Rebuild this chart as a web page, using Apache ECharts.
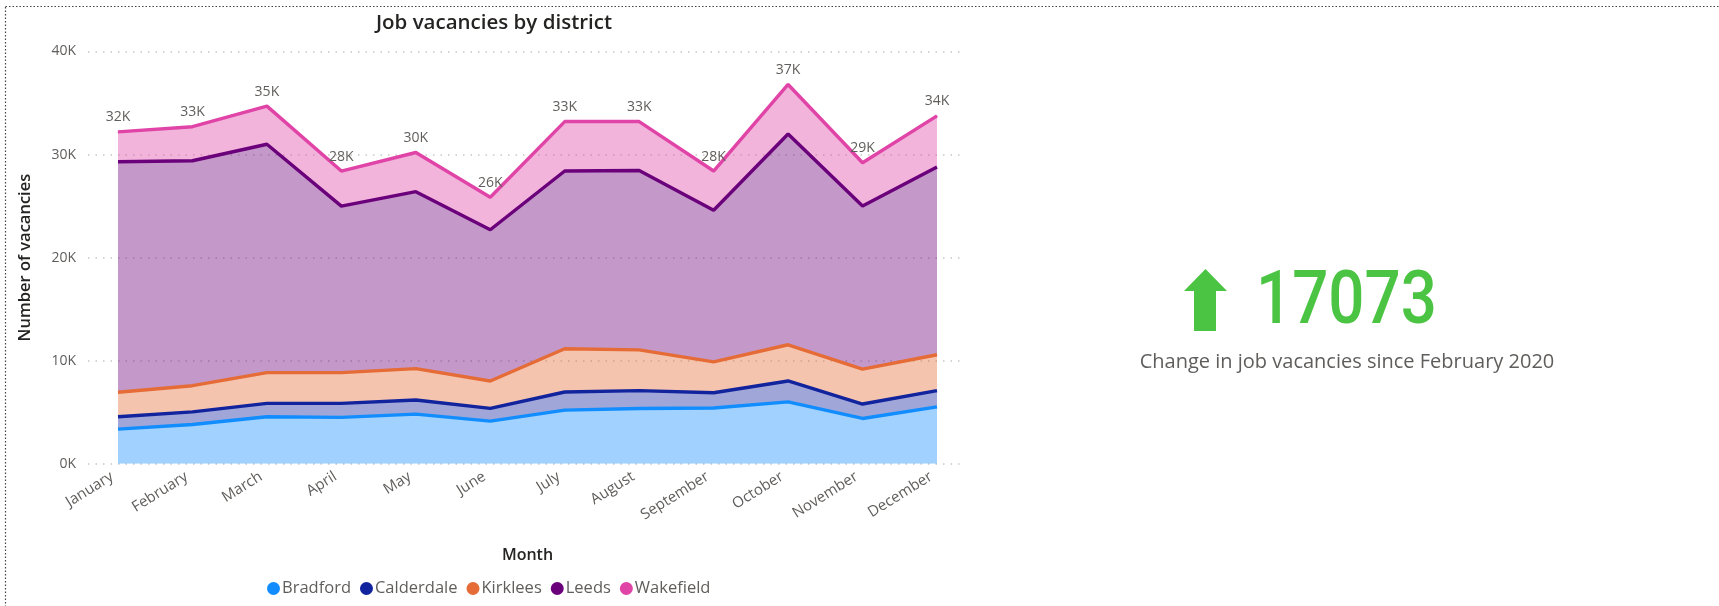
<!DOCTYPE html>
<html>
<head>
<meta charset="utf-8">
<script src="https://cdn.jsdelivr.net/npm/echarts@6/dist/echarts.min.js"></script>
<style>
html,body{margin:0;padding:0;background:#fff;}
#chart{width:1719px;height:606px;}
</style>
</head>
<body>
<div id="chart"></div>
<script>
const months = ['January','February','March','April','May','June','July','August','September','October','November','December'];
const bradford   = [3350, 3800, 4550, 4500, 4810, 4130, 5200, 5350, 5400, 6000, 4390, 5520];
const calderdale = [1200, 1230, 1300, 1350, 1370, 1240, 1760, 1740, 1490, 2030, 1400, 1570];
const kirklees   = [2380, 2540, 2990, 2990, 3050, 2660, 4190, 3960, 2990, 3510, 3380, 3480];
const leeds      = [22370, 21830, 22160, 16160, 17170, 14670, 17250, 17400, 14720, 20460, 15830, 18230];
const wakefield  = [2900, 3300, 3700, 3400, 3800, 3150, 4800, 4750, 3800, 4800, 4200, 4950];
const seriesNames = ['Bradford','Calderdale','Kirklees','Leeds','Wakefield'];
const yTicks = [0, 10000, 20000, 30000, 40000];
const kpiValue = 17073;
const kpiCaption = 'Change in job vacancies since February 2020';

const seriesData = [bradford, calderdale, kirklees, leeds, wakefield];
const lineColors = ['#118DFF','#12239E','#E66C37','#6B007B','#E044A7'];
const FONT = "'Segoe UI','Open Sans','Noto Sans',sans-serif";

function total(i){ return seriesData.reduce((s,a)=>s+a[i],0); }

const chart = echarts.init(document.getElementById('chart'), null, {renderer:'canvas'});

const areaSeries = seriesData.map((d, k) => ({
  name: seriesNames[k],
  type: 'line',
  stack: 'area',
  data: d,
  xAxisIndex: 0, yAxisIndex: 0,
  showSymbol: false,
  lineStyle: {width: 0, color: lineColors[k]},
  itemStyle: {color: lineColors[k]},
  areaStyle: {color: lineColors[k], opacity: 0.4},
  emphasis: {disabled: true},
  silent: true,
  z: 2
}));

const lineSeries = seriesData.map((d, k) => ({
  name: seriesNames[k],
  type: 'line',
  stack: 'line',
  data: d,
  xAxisIndex: 0, yAxisIndex: 0,
  showSymbol: k === seriesData.length - 1,
  symbol: 'circle',
  symbolSize: 1,
  lineStyle: {width: 3.4, color: lineColors[k]},
  itemStyle: {color: lineColors[k]},
  label: k === seriesData.length - 1 ? {
    show: true, position: 'top', distance: 7,
    color: '#605E5C', fontSize: 14, fontFamily: FONT,
    formatter: p => Math.round(total(p.dataIndex)/1000) + 'K'
  } : {show: false},
  emphasis: {disabled: true},
  z: 5 + k
}));

const option = {
  backgroundColor: '#ffffff',
  animation: false,
  title: {
    text: 'Job vacancies by district',
    left: 489, top: 8, textAlign: 'center',
    textStyle: {fontFamily: FONT, fontSize: 20.5, fontWeight: 600, color: '#252423'}
  },
  legend: {
    data: seriesNames,
    left: 262, top: 575,
    icon: 'circle', itemWidth: 13, itemHeight: 13, itemGap: 9,
    textStyle: {fontFamily: FONT, fontSize: 16.5, color: '#605E5C', padding: [0,0,0,-3]}
  },
  grid: [
    {left: 118, right: 782, top: 51.5, bottom: 142.3},
    {left: 88, right: 754, top: 51.5, bottom: 142.3}
  ],
  xAxis: [
    {
      type: 'category', gridIndex: 0, data: months, boundaryGap: false,
      axisLine: {show: false}, axisTick: {show: false}, splitLine: {show: false},
      axisLabel: {rotate: 32, margin: 8, color: '#605E5C', fontSize: 15, fontFamily: FONT, interval: 0,
        padding: [0, 7, 0, 0]},
      name: 'Month', nameLocation: 'middle', nameGap: 84,
      nameTextStyle: {fontFamily: FONT, fontSize: 16, fontWeight: 600, color: '#252423'}
    },
    {type: 'value', gridIndex: 1, min: 0, max: 1, show: false}
  ],
  yAxis: [
    {type: 'value', gridIndex: 0, min: yTicks[0], max: yTicks[yTicks.length-1], interval: 10000, show: false},
    {
      type: 'value', gridIndex: 1, min: yTicks[0], max: yTicks[yTicks.length-1], interval: 10000,
      axisLine: {show: false}, axisTick: {show: false},
      axisLabel: {margin: 12, color: '#605E5C', fontSize: 14, fontFamily: FONT,
        formatter: v => (v/1000) + 'K'},
      splitLine: {show: true, lineStyle: {type: [1.5, 6], color: '#C8C6C4', width: 1.5}},
      name: 'Number of vacancies', nameLocation: 'middle', nameGap: 54,
      nameTextStyle: {fontFamily: FONT, fontSize: 16.5, fontWeight: 600, color: '#252423'}
    }
  ],
  series: areaSeries.concat(lineSeries),
  graphic: [
    {type: 'rect', shape: {x: 5.5, y: 6.5, width: 1800, height: 700}, silent: true,
     style: {fill: 'none', stroke: '#444', lineWidth: 1.2, lineDash: [1.5, 2]}, z: 100},
    {type: 'polygon', silent: true,
     shape: {points: [[1205.5, 269], [1227, 291], [1216, 291], [1216, 331], [1194, 331], [1194, 291], [1184, 291]]},
     style: {fill: '#4CC443'}},
    {type: 'text', silent: true, x: 1256, y: 304.5, scaleX: 0.86,
     style: {text: String(kpiValue), fill: '#4CC443', verticalAlign: 'middle', align: 'left',
       font: "normal 500 74px Roboto, 'Open Sans', sans-serif"}},
    {type: 'text', silent: true, x: 1347, y: 362,
     style: {text: kpiCaption, fill: '#605E5C', align: 'center', verticalAlign: 'middle',
       font: "normal 400 20px 'Segoe UI','Open Sans','Noto Sans',sans-serif"}}
  ]
};
chart.setOption(option);
</script>
</body>
</html>
